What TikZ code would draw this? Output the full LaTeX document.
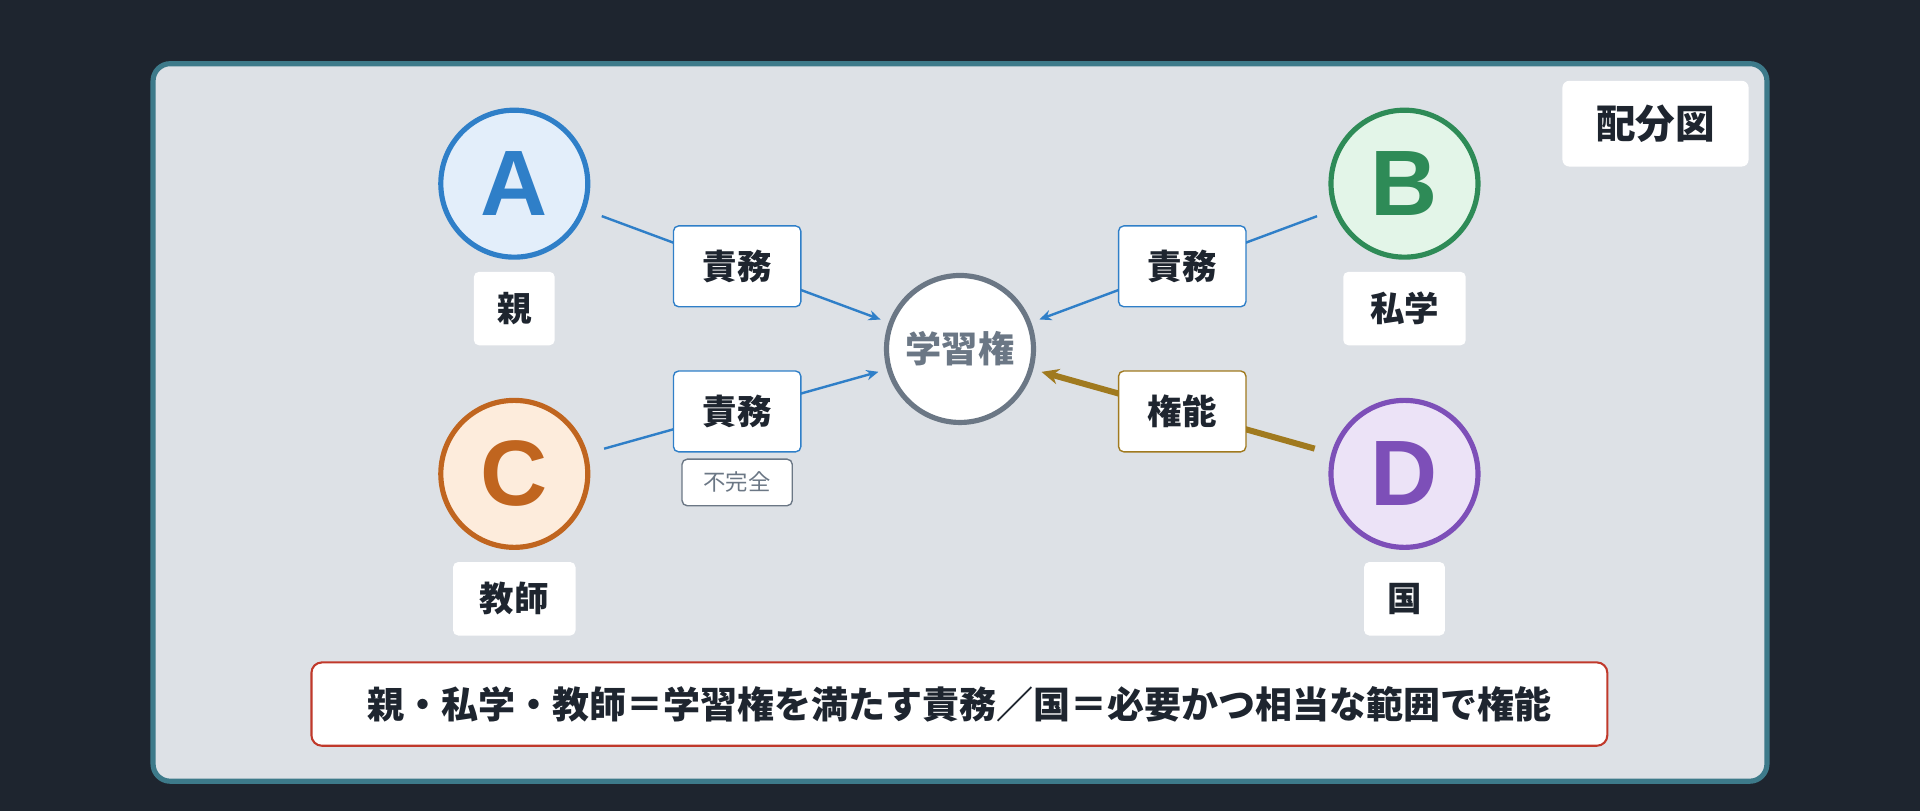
\documentclass[tikz,border=0pt]{standalone}
\usepackage{fontspec}
\setmainfont{Noto Sans CJK JP}
\newfontfamily\latinf{Liberation Sans}
\usetikzlibrary{arrows.meta}
\definecolor{bgdark}{HTML}{1E252F}
\definecolor{panel}{HTML}{DDE1E6}
\definecolor{teal}{HTML}{3D7A8A}
\definecolor{cA}{HTML}{2F7FC8}\definecolor{fA}{HTML}{E3EEFA}
\definecolor{cB}{HTML}{2E8B57}\definecolor{fB}{HTML}{E3F5E8}
\definecolor{cC}{HTML}{C0651F}\definecolor{fC}{HTML}{FDECDC}
\definecolor{cD}{HTML}{7D4FB8}\definecolor{fD}{HTML}{ECE3F7}
\definecolor{gr}{HTML}{6B7785}
\definecolor{brn}{HTML}{A07A1F}
\definecolor{red}{HTML}{C0392B}
\definecolor{txt}{HTML}{1E252F}
\begin{document}
\begin{tikzpicture}[x=0.025cm,y=-0.025cm,
  party/.style={circle,line width=3pt,inner sep=0pt,minimum size=3.0cm,font=\latinf\fontsize{54}{54}\selectfont\bfseries},
  lbl/.style={fill=white,rounded corners=3pt,minimum height=1.5cm,inner sep=6pt,text=txt,font=\fontsize{20}{20}\selectfont\bfseries},
  elbl/.style={fill=white,draw=cA,line width=0.8pt,rounded corners=3pt,minimum width=2.6cm,minimum height=1.65cm,text=txt,font=\fontsize{20}{20}\selectfont\bfseries},
  conn/.style={draw=cA,line width=1.4pt,-{Stealth[length=7pt,width=6pt]},shorten <=10pt,shorten >=5pt}]
\fill[bgdark] (0,0) rectangle (1568,662);
\useasboundingbox (0,0) rectangle (1568,662);
\draw[teal,line width=3pt,fill=panel,rounded corners=10pt] (125,52) rectangle (1443,638);
\node[fill=white,rounded corners=4pt,minimum width=3.8cm,minimum height=1.75cm,text=txt,font=\fontsize{23}{23}\selectfont\bfseries] (title) at (1352,101) {配分図};
\node[party,draw=cA,fill=fA,text=cA] (A) at (420,150) {A};
\node[party,draw=cB,fill=fB,text=cB] (B) at (1147,150) {B};
\node[party,draw=cC,fill=fC,text=cC] (C) at (420,387) {C};
\node[party,draw=cD,fill=fD,text=cD] (D) at (1147,387) {D};
\node[circle,draw=gr,fill=white,line width=3pt,minimum size=3.0cm,inner sep=0pt,text=gr,font=\fontsize{21}{21}\selectfont\bfseries] (X) at (784,285) {学習権};
\node[lbl,minimum width=1.65cm] (lA) at (420,252) {親};
\node[lbl,minimum width=2.5cm] (lB) at (1147,252) {私学};
\node[lbl,minimum width=2.5cm] (lC) at (420,489) {教師};
\node[lbl,minimum width=1.65cm] (lD) at (1147,489) {国};
\draw[conn] (A) -- (X) node[elbl,pos=0.5] (eA) {責務};
\draw[conn] (B) -- (X) node[elbl,pos=0.5] (eB) {責務};
\draw[conn] (C) -- (X) node[elbl,pos=0.5] (eC) {責務};
\draw[draw=brn,line width=3.5pt,-{Stealth[length=10pt,width=9pt]},shorten <=10pt,shorten >=5pt] (D) -- (X) node[elbl,draw=brn,pos=0.5] (eD) {権能};
\node[fill=white,draw=gr,line width=0.8pt,rounded corners=3pt,minimum width=2.25cm,minimum height=0.95cm,inner sep=2pt,text=gr,font=\fontsize{13}{13}\selectfont] (inc) at (602,394) {不完全};
\node[fill=white,draw=red,line width=1.2pt,rounded corners=6pt,minimum width=26.45cm,minimum height=1.7cm,text=txt,font=\fontsize{21.5}{21.5}\selectfont\bfseries] (sum) at (783.5,575) {親・私学・教師＝学習権を満たす責務／国＝必要かつ相当な範囲で権能};
\end{tikzpicture}
\end{document}
